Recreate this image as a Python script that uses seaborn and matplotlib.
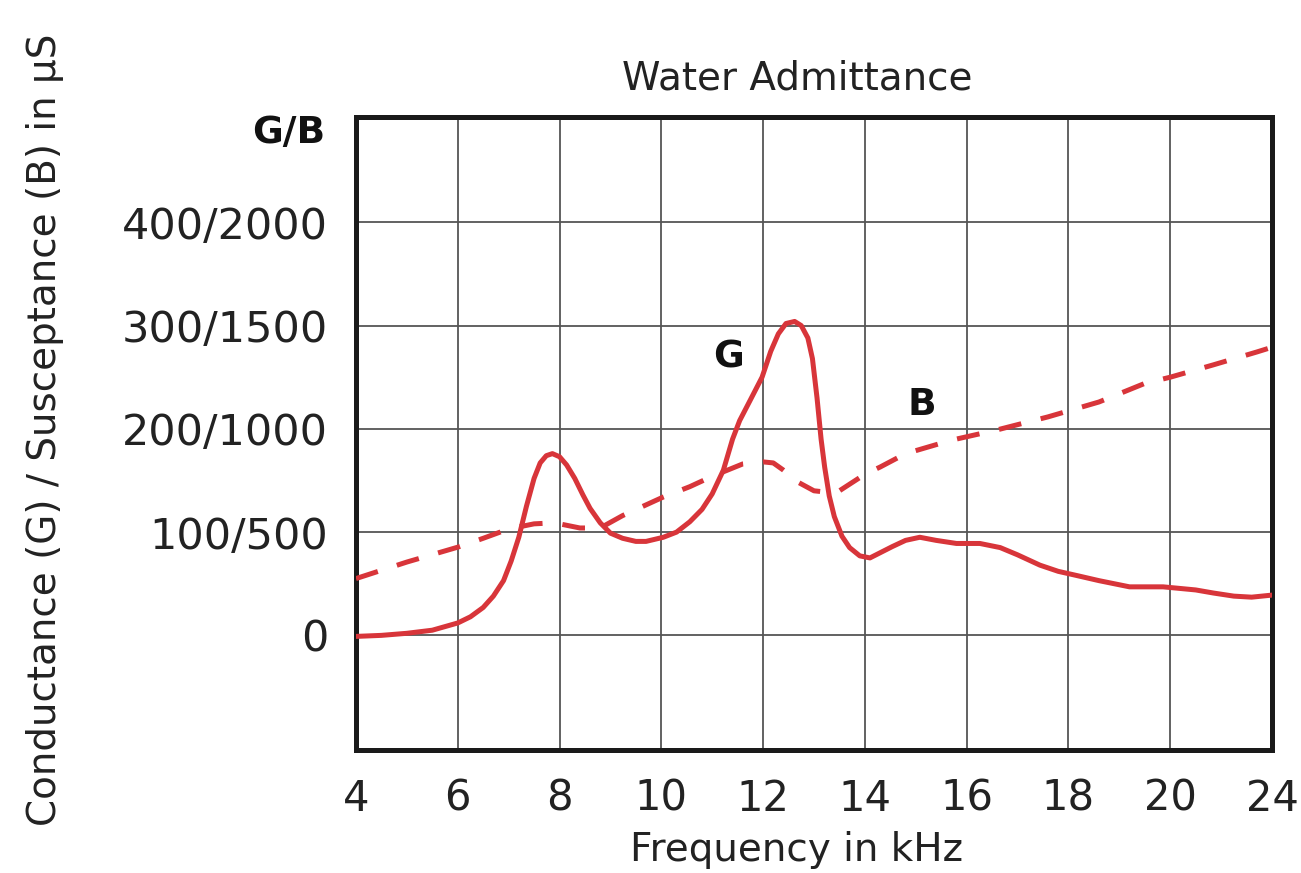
import numpy as np
import matplotlib
matplotlib.use("Agg")
import matplotlib.pyplot as plt
import seaborn as sns

# ---- data ----
# x axis: frequency ticks (equally spaced, last step is 20 -> 24 kHz)
freq_ticks = [4, 6, 8, 10, 12, 14, 16, 18, 20, 24]
g_ticks = [0, 100, 200, 300, 400]
g_tick_labels = ["0", "100/500", "200/1000", "300/1500", "400/2000"]

# conductance G in uS
g_freq = [4.0, 4.5, 5.0, 5.5, 6.0, 6.25, 6.5, 6.7, 6.9, 7.05, 7.2, 7.35, 7.5, 7.62,
          7.74, 7.86, 8.0, 8.14, 8.3, 8.46, 8.6, 8.8, 9.0, 9.24, 9.5, 9.7, 10.04,
          10.3, 10.56, 10.8, 11.0, 11.22, 11.4, 11.54, 11.75, 11.98, 12.15, 12.3,
          12.45, 12.62, 12.75, 12.88, 12.97, 13.06, 13.14, 13.21, 13.3, 13.4, 13.55,
          13.7, 13.9, 14.1, 14.3, 14.54, 14.8, 15.08, 15.4, 15.8, 16.26, 16.66, 17.0,
          17.44, 17.8, 18.16, 18.6, 19.2, 19.86, 21.0, 21.7, 22.5, 23.2, 24.0]
g_vals = [-1, 0, 2, 5, 12, 18, 27, 38, 53, 72, 95, 125, 152, 167,
          174, 176, 173, 165, 152, 136, 123, 109, 99, 94, 91, 91, 95,
          100, 110, 122, 137, 160, 190, 208, 228, 250, 275, 292,
          302, 304, 300, 288, 268, 230, 190, 163, 135, 115, 96,
          85, 77, 75, 80, 86, 92, 95, 92, 89, 89, 85, 78,
          68, 62, 58, 53, 47, 47, 44, 41, 38, 37, 39]

# susceptance B in uS
b_freq = [4.0, 5.0, 6.0, 6.5, 7.0, 7.5, 7.9, 8.4, 8.8, 9.24, 10.04, 10.56, 11.0,
          11.6, 12.0, 12.2, 12.4, 12.7, 13.0, 13.3, 13.5, 14.0, 14.3, 14.8, 15.7,
          16.6, 17.6, 18.6, 19.5, 20.0, 21.7, 23.4, 24.0]
b_vals = [275, 355, 427, 470, 515, 540, 545, 520, 520, 580, 670, 720, 770,
          830, 840, 835, 800, 740, 700, 692, 700, 780, 815, 880, 945,
          995, 1058, 1130, 1220, 1250, 1310, 1372, 1395]

RED = "#d8353a"

# axis position of every frequency tick (grid is evenly spaced)
tick_pos = np.arange(len(freq_ticks))


def fwd(x):
    return np.interp(x, freq_ticks, tick_pos, left=-1, right=10)


def inv(p):
    return np.interp(p, tick_pos, freq_ticks, left=2, right=28)


sns.set_style("white")
plt.rcParams["font.family"] = ["DejaVu Sans"]

fig = plt.figure(figsize=(13.01, 8.73), dpi=100)
ax = fig.add_axes([0.2736, 0.1409, 0.7041, 0.7251])
ax.set_xscale("function", functions=(fwd, inv))

sns.lineplot(x=g_freq, y=g_vals, ax=ax, color=RED, lw=3.6, sort=False,
             solid_joinstyle="round", solid_capstyle="round", zorder=4)
sns.lineplot(x=b_freq, y=np.array(b_vals) / 5.0, ax=ax, color=RED, lw=3.6, sort=False,
             linestyle=(0, (4.6, 4.0)), zorder=4)

ax.set_xlim(4, 24)
ax.set_ylim(-111, 502)
ax.set_xticks(freq_ticks)
ax.set_xticklabels([str(f) for f in freq_ticks], fontsize=30, color="#222222")
ax.set_yticks(g_ticks)
ax.set_yticklabels(g_tick_labels, fontsize=31, color="#222222")
ax.tick_params(axis="x", length=0, pad=20)
ax.tick_params(axis="y", length=0, pad=20)

ax.grid(True, color="#555555", lw=1.3)
ax.set_axisbelow(True)
for s in ax.spines.values():
    s.set_visible(True)
    s.set_color("#1a1a1a")
    s.set_linewidth(3.6)

# curve labels
ax.text(11.32, 269, "G", fontsize=27, fontweight="bold", ha="center", va="center", color="#111111")
ax.text(15.12, 223, "B", fontsize=27, fontweight="bold", ha="center", va="center", color="#111111")

fig.text(325 / 1301, 1 - 133 / 873, "G/B", fontsize=27, fontweight="bold",
         ha="right", va="center", color="#111111")
fig.text(797 / 1301, 1 - 78 / 873, "Water Admittance", fontsize=28,
         ha="center", va="center", color="#222222")
fig.text(797 / 1301, 1 - 850 / 873, "Frequency in kHz", fontsize=28,
         ha="center", va="center", color="#222222")
fig.text(45 / 1301, 1 - 430 / 873, "Conductance (G) / Susceptance (B) in µS", fontsize=28,
         rotation=90, ha="center", va="center", color="#222222")

fig.savefig("out.png", dpi=100)
